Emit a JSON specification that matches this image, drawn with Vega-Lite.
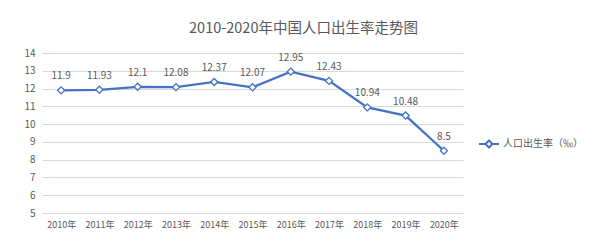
{
  "$schema": "https://vega.github.io/schema/vega-lite/v6.json",
  "autosize": "none",
  "width": 421,
  "height": 160,
  "padding": {"left": 42, "top": 53, "right": 137, "bottom": 34},
  "background": "white",
  "config": {
    "font": "Noto Sans CJK SC",
    "view": {"stroke": null}
  },
  "title": {
    "text": "2010-2020年中国人口出生率走势图",
    "fontSize": 14.5,
    "fontWeight": "normal",
    "color": "#595959",
    "anchor": "middle",
    "frame": "group",
    "dx": 51,
    "offset": 12
  },
  "data": {
    "values": [
      {"year": "2010年", "rate": 11.9, "series": "人口出生率（‰）"},
      {"year": "2011年", "rate": 11.93, "series": "人口出生率（‰）"},
      {"year": "2012年", "rate": 12.1, "series": "人口出生率（‰）"},
      {"year": "2013年", "rate": 12.08, "series": "人口出生率（‰）"},
      {"year": "2014年", "rate": 12.37, "series": "人口出生率（‰）"},
      {"year": "2015年", "rate": 12.07, "series": "人口出生率（‰）"},
      {"year": "2016年", "rate": 12.95, "series": "人口出生率（‰）"},
      {"year": "2017年", "rate": 12.43, "series": "人口出生率（‰）"},
      {"year": "2018年", "rate": 10.94, "series": "人口出生率（‰）"},
      {"year": "2019年", "rate": 10.48, "series": "人口出生率（‰）"},
      {"year": "2020年", "rate": 8.5, "series": "人口出生率（‰）"}
    ]
  },
  "encoding": {
    "x": {
      "field": "year",
      "type": "ordinal",
      "sort": null,
      "scale": {"type": "point", "padding": 0.5},
      "axis": {
        "title": null,
        "labelAngle": 0,
        "ticks": false,
        "domain": false,
        "labelFontSize": 9,
        "labelColor": "#595959",
        "labelPadding": 7
      }
    },
    "y": {
      "field": "rate",
      "type": "quantitative",
      "scale": {"domain": [5, 14], "nice": false, "zero": false},
      "axis": {
        "title": null,
        "values": [5, 6, 7, 8, 9, 10, 11, 12, 13, 14],
        "ticks": false,
        "domain": false,
        "gridColor": "#d9d9d9",
        "gridWidth": 1,
        "labelFontSize": 10,
        "labelColor": "#595959",
        "labelPadding": 7
      }
    }
  },
  "layer": [
    {
      "mark": {"type": "line", "strokeWidth": 2.25},
      "encoding": {
        "color": {
          "field": "series",
          "type": "nominal",
          "scale": {"range": ["#4472C4"]},
          "legend": {
            "title": null,
            "orient": "none",
            "legendX": 436,
            "legendY": 80,
            "symbolType": "M-1,0L-0.35,0M0.35,0L1,0M0,-0.35L0.35,0L0,0.35L-0.35,0Z",
            "symbolSize": 400,
            "symbolStrokeWidth": 2,
            "symbolFillColor": "white",
            "labelFontSize": 10,
            "labelColor": "#595959",
            "labelOffset": 3
          }
        }
      }
    },
    {
      "mark": {
        "type": "point",
        "shape": "diamond",
        "filled": true,
        "fill": "white",
        "stroke": "#4472C4",
        "strokeWidth": 1.3,
        "size": 50,
        "opacity": 1
      }
    },
    {
      "mark": {"type": "text", "dy": -14, "fontSize": 10, "color": "#595959"},
      "encoding": {"text": {"field": "rate", "type": "quantitative"}}
    }
  ]
}
